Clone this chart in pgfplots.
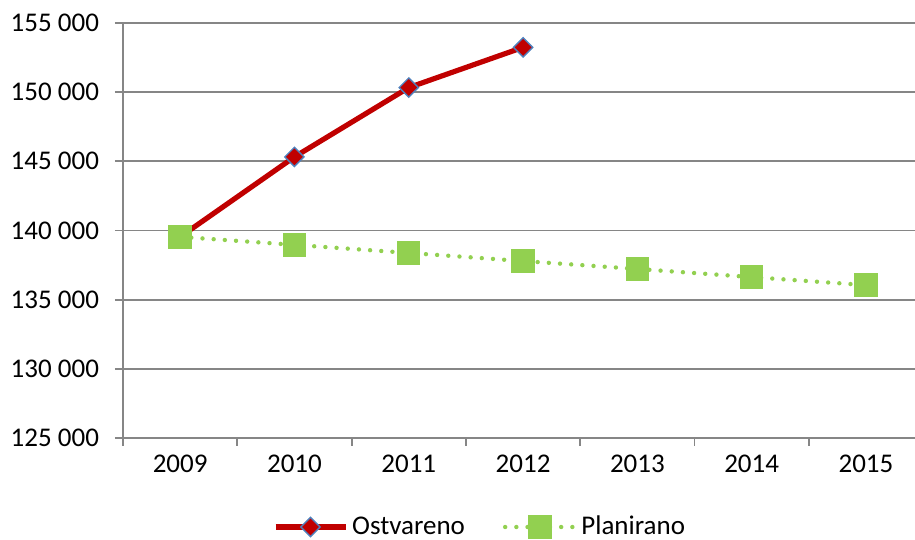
\documentclass[border=0pt]{standalone}
\usepackage{pgfplots}
\pgfplotsset{compat=1.18}
\usepackage{fontspec}
\setmainfont{Carlito}

\definecolor{ostred}{RGB}{192,0,0}
\definecolor{ostblue}{RGB}{79,129,189}
\definecolor{plangreen}{RGB}{146,208,80}
\definecolor{gridgray}{RGB}{134,134,134}

\begin{document}
\begin{tikzpicture}
\begin{axis}[
    scale only axis,
    width=396pt,
    height=207.5pt,
    xmin=-0.5, xmax=6.429,
    ymin=125000, ymax=155000,
    ytick={125000,130000,...,155000},
    scaled y ticks=false,
    xtick={0,...,6},
    xticklabels={2009,2010,2011,2012,2013,2014,2015},
    minor xtick={-0.5,0.5,...,5.5},
    axis lines*=left,
    axis line style={gridgray, line width=0.9pt},
    tick align=outside,
    major tick length=4pt,
    minor tick length=4pt,
    major x tick style={draw=none},
    minor x tick style={gridgray, line width=0.9pt},
    major y tick style={gridgray, line width=0.9pt},
    ymajorgrids,
    major grid style={gridgray, line width=0.9pt},
    clip=false,
    /pgf/number format/.cd, fixed, precision=0, 1000 sep={\ }, assume math mode=true,
    /pgfplots/.cd,
    tick label style={font=\fontsize{13.5}{15}\selectfont, black},
    yticklabel style={xshift=-4.5pt},
    xticklabel style={yshift=-1.2pt},
    legend columns=2,
    legend style={draw=none, at={(0.452,-0.2145)}, anchor=center,
        font=\fontsize{13.5}{15}\selectfont,
        /tikz/every even column/.append style={column sep=17pt}},
    legend image code/.code={
        \draw[mark repeat=2, mark phase=2, #1]
            plot coordinates {(0pt,0pt) (17.5pt,0pt) (35pt,0pt)};},
]
% Ostvareno
\addplot[ostred, line width=2.6pt, mark=square*,
    mark size=3.4pt, mark options={solid, rotate=45, fill=ostred, draw=ostblue, line width=0.7pt}]
coordinates {
(0, 139540)
(1, 145320)
(2, 150330)
(3, 153240)
};
\addlegendentry{Ostvareno}
% Planirano
\addplot[plangreen, line width=2.2pt, line cap=round, dash pattern=on 0pt off 5.6pt,
    mark=square*, mark size=4.75pt, mark options={solid, fill=plangreen, draw=none}]
coordinates {
(0, 139540)
(1, 138960)
(2, 138380)
(3, 137790)
(4, 137220)
(5, 136630)
(6, 136050)
};
\addlegendentry{Planirano}
\end{axis}
\pgfresetboundingbox
\path (-61.5pt,-51pt) rectangle (396pt,219pt);
\end{tikzpicture}
\end{document}
